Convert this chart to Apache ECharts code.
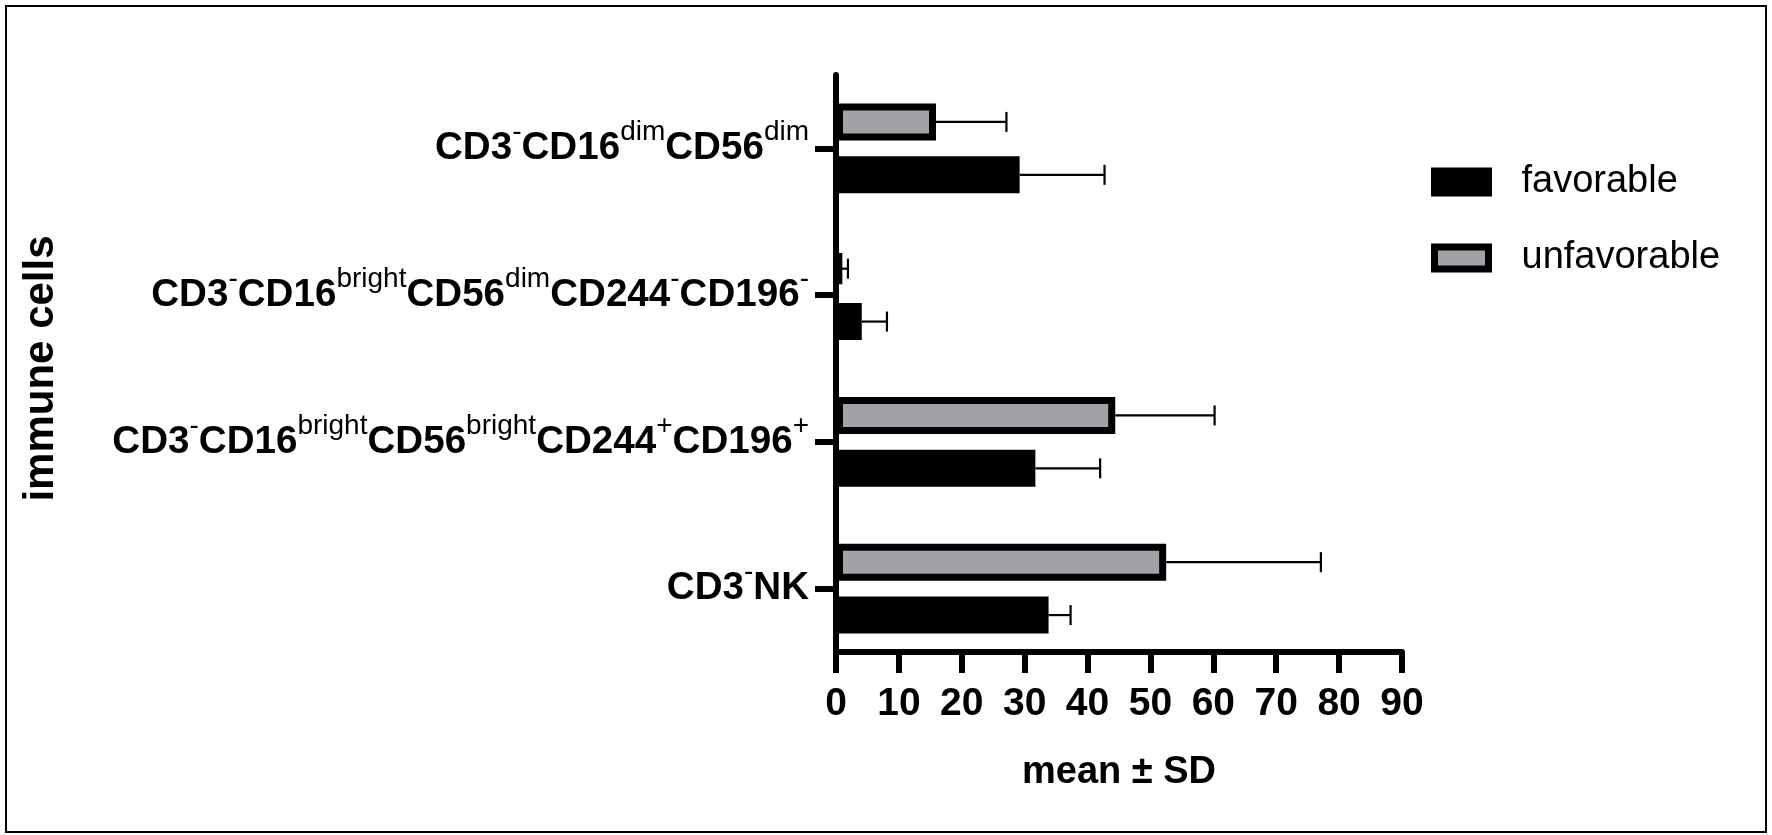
<!DOCTYPE html>
<html>
<head>
<meta charset="utf-8">
<title>immune cells</title>
<script src="https://cdn.jsdelivr.net/npm/echarts@6/dist/echarts.min.js"></script>
<style>
html, body { margin: 0; padding: 0; background: #fff; }
#chart { width: 1772px; height: 835px; }
</style>
</head>
<body>
<div id="chart"></div>
<script>
// categories from bottom to top, ^{..} is a superscript
var categories = [
	'CD3^{-}NK',
	'CD3^{-}CD16^{bright}CD56^{bright}CD244^{+}CD196^{+}',
	'CD3^{-}CD16^{bright}CD56^{dim}CD244^{-}CD196^{-}',
	'CD3^{-}CD16^{dim}CD56^{dim}'
];
var favorable     = [33.8, 31.7, 4.1, 29.2];
var favorableSD   = [3.5, 10.3, 4.0, 13.5];
var unfavorable   = [52.5, 44.4, 0.9, 15.9];
var unfavorableSD = [24.6, 15.8, 1.0, 11.2];
var xMin = 0, xMax = 90, xStep = 10;

var FONT = 'Liberation Sans, Arial, sans-serif';
var BAR_W = 37, BAR_GAP = 0.43;
var shift = BAR_W * (1 + BAR_GAP) / 2;

function richLabel(s) {
	return s.split(/(\^\{[^}]*\})/).filter(function (p) { return p; }).map(function (p) {
		if (p.indexOf('^{') === 0) return '{sup|' + p.slice(2, -1) + '}';
		return '{main|' + p + '}';
	}).join('');
}

function errorBars(dy) {
	return function (params, api) {
		var cat = api.value(0), v = api.value(1), sd = api.value(2);
		var a = api.coord([v, cat]);
		var b = api.coord([v + sd, cat]);
		var y = a[1] + dy;
		var cap = 10;
		return {
			type: 'group',
			children: [
				{ type: 'line', shape: { x1: a[0], y1: y, x2: b[0], y2: y }, style: { stroke: '#000', lineWidth: 2.2 } },
				{ type: 'line', shape: { x1: b[0], y1: y - cap, x2: b[0], y2: y + cap }, style: { stroke: '#000', lineWidth: 2.2 } }
			]
		};
	};
}

function errData(vals, sds) {
	return categories.map(function (c, i) { return [i, vals[i], sds[i]]; });
}

var myChart = echarts.init(document.getElementById('chart'));
myChart.setOption({
	animation: false,
	backgroundColor: '#fff',
	textStyle: { fontFamily: FONT, color: '#000' },
	graphic: [{
		type: 'rect',
		shape: { x: 6, y: 6, width: 1760, height: 826 },
		style: { fill: 'none', stroke: '#000', lineWidth: 2 }
	}],
	grid: { left: 836, right: 370, top: 75, bottom: 173 },
	legend: {
		data: ['favorable', 'unfavorable'],
		orient: 'vertical',
		left: 1426,
		top: 158,
		icon: 'rect',
		itemWidth: 54,
		itemHeight: 22,
		itemGap: 38,
		itemStyle: { borderColor: '#000', borderWidth: 7 },
		textStyle: { fontSize: 38, fontFamily: FONT, color: '#000', padding: [0, 0, 0, 28] }
	},
	xAxis: {
		type: 'value',
		min: xMin,
		max: xMax,
		interval: xStep,
		offset: -10,
		name: 'mean \u00b1 SD',
		nameLocation: 'middle',
		nameGap: 102,
		nameTextStyle: { fontSize: 38, fontWeight: 'bold', fontFamily: FONT, color: '#000' },
		axisLine: { show: true, lineStyle: { color: '#000', width: 6 } },
		axisTick: { show: true, length: 21, lineStyle: { color: '#000', width: 6 } },
		axisLabel: { fontSize: 39, fontWeight: 'bold', fontFamily: FONT, color: '#000', margin: 33 },
		splitLine: { show: false }
	},
	yAxis: {
		type: 'category',
		data: categories,
		name: 'immune cells',
		nameLocation: 'middle',
		nameGap: 774,
		nameRotate: 90,
		nameTextStyle: { fontSize: 42, fontWeight: 'bold', fontFamily: FONT, color: '#000' },
		axisLine: { show: true, lineStyle: { color: '#000', width: 6 } },
		axisTick: { show: true, alignWithLabel: true, length: 21, lineStyle: { color: '#000', width: 6 } },
		axisLabel: {
			margin: 27,
			formatter: richLabel,
			rich: {
				main: { fontSize: 38.6, fontWeight: 'bold', fontFamily: FONT, color: '#000', lineHeight: 60 },
				sup: { fontSize: 28, fontFamily: FONT, color: '#000', lineHeight: 28, verticalAlign: 'top' }
			}
		},
		splitLine: { show: false }
	},
	series: [
		{
			name: 'unfavorable',
			type: 'bar',
			data: unfavorable,
			barWidth: BAR_W,
			barGap: (BAR_GAP * 100) + '%',
			itemStyle: { color: '#a2a1a7', borderColor: '#000', borderWidth: 7 }
		},
		{
			name: 'favorable',
			type: 'bar',
			data: favorable,
			barWidth: BAR_W,
			barGap: (BAR_GAP * 100) + '%',
			itemStyle: { color: '#000', borderColor: '#000', borderWidth: 7 }
		},
		{
			type: 'custom',
			data: errData(unfavorable, unfavorableSD),
			encode: { x: 1, y: 0 },
			renderItem: errorBars(-shift),
			z: 3
		},
		{
			type: 'custom',
			data: errData(favorable, favorableSD),
			encode: { x: 1, y: 0 },
			renderItem: errorBars(shift),
			z: 3
		}
	]
});
</script>
</body>
</html>
